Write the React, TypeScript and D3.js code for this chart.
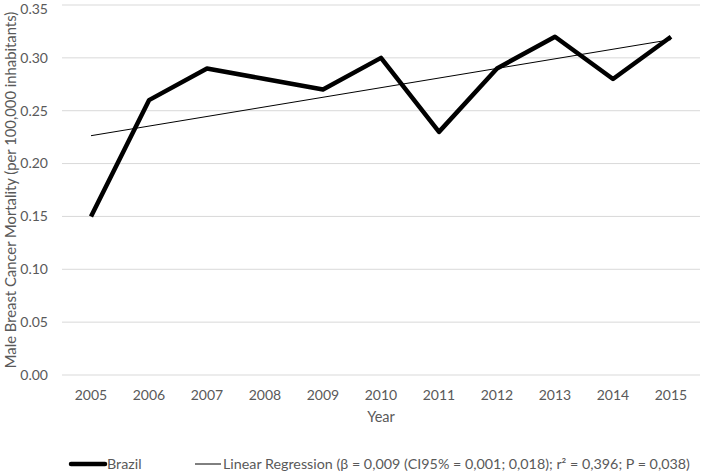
import React from 'react';
import * as d3 from 'd3';

const years = ['2005', '2006', '2007', '2008', '2009', '2010', '2011', '2012', '2013', '2014', '2015'];
const brazil = [0.15, 0.26, 0.29, 0.28, 0.27, 0.30, 0.23, 0.29, 0.32, 0.28, 0.32];
const yTicks = [0, 0.05, 0.1, 0.15, 0.2, 0.25, 0.3, 0.35];
const regLabel = 'Linear Regression (β = 0,009 (CI95% = 0,001; 0,018); r² = 0,396; P = 0,038)';

const width = 709;
const height = 474;
const margin = { top: 5, right: 9, bottom: 99, left: 62 };
const font = "Lato, 'Open Sans', sans-serif";
const textColor = '#595959';

export default function App() {
  const x = d3.scaleBand().domain(years).range([margin.left, width - margin.right]);
  const y = d3.scaleLinear().domain([0, 0.35]).range([height - margin.bottom, margin.top]);
  const cx = (yr: string) => (x(yr) ?? 0) + x.bandwidth() / 2;

  // least squares fit on the year index
  const idx = brazil.map((_, i) => i);
  const mx = d3.mean(idx) ?? 0;
  const my = d3.mean(brazil) ?? 0;
  const slope = d3.sum(idx, i => (i - mx) * (brazil[i] - my)) / d3.sum(idx, i => (i - mx) ** 2);
  const fit = idx.map(i => my + slope * (i - mx));

  const line = d3.line<number>().x((_, i) => cx(years[i])).y(d => y(d));

  const plotMidY = (margin.top + height - margin.bottom) / 2;

  return (
    <svg width={width} height={height} style={{ position: 'absolute', left: 0, top: 0 }}>
      <rect width={width} height={height} fill="#fff" />
      {yTicks.map(t => (
        <g key={t}>
          <line x1={margin.left} x2={width - margin.right} y1={y(t)} y2={y(t)} stroke="#d9d9d9" strokeWidth={1} />
          <text x={48} y={Math.max(y(t), 9)} dy="0.35em" textAnchor="end" fontFamily={font} fontSize={14} fill={textColor}>
            {t.toFixed(2)}
          </text>
        </g>
      ))}
      {years.map(yr => (
        <text key={yr} x={cx(yr)} y={y(0) + 25} textAnchor="middle" fontFamily={font} fontSize={14} fill={textColor}>
          {yr}
        </text>
      ))}
      <text x={cx('2010')} y={y(0) + 47} textAnchor="middle" fontFamily={font} fontSize={14.5} fill={textColor}>Year</text>
      <text
        transform={`translate(16,${plotMidY}) rotate(-90)`}
        textAnchor="middle"
        fontFamily={font}
        fontSize={14.8}
        fill={textColor}
      >
        Male Breast Cancer Mortality (per 100,000 inhabitants)
      </text>
      <path d={line(fit) ?? ''} fill="none" stroke="#000" strokeWidth={1} />
      <path d={line(brazil) ?? ''} fill="none" stroke="#000" strokeWidth={4.5} strokeLinejoin="round" />
      <g fontFamily={font} fontSize={14.3} fill={textColor}>
        <line x1={71} x2={105} y1={464} y2={464} stroke="#000" strokeWidth={4.5} strokeLinecap="round" />
        <text x={107} y={464} dy="0.35em">Brazil</text>
        <line x1={195} x2={221} y1={464} y2={464} stroke="#000" strokeWidth={1} />
        <text x={223} y={464} dy="0.35em">{regLabel}</text>
      </g>
    </svg>
  );
}
